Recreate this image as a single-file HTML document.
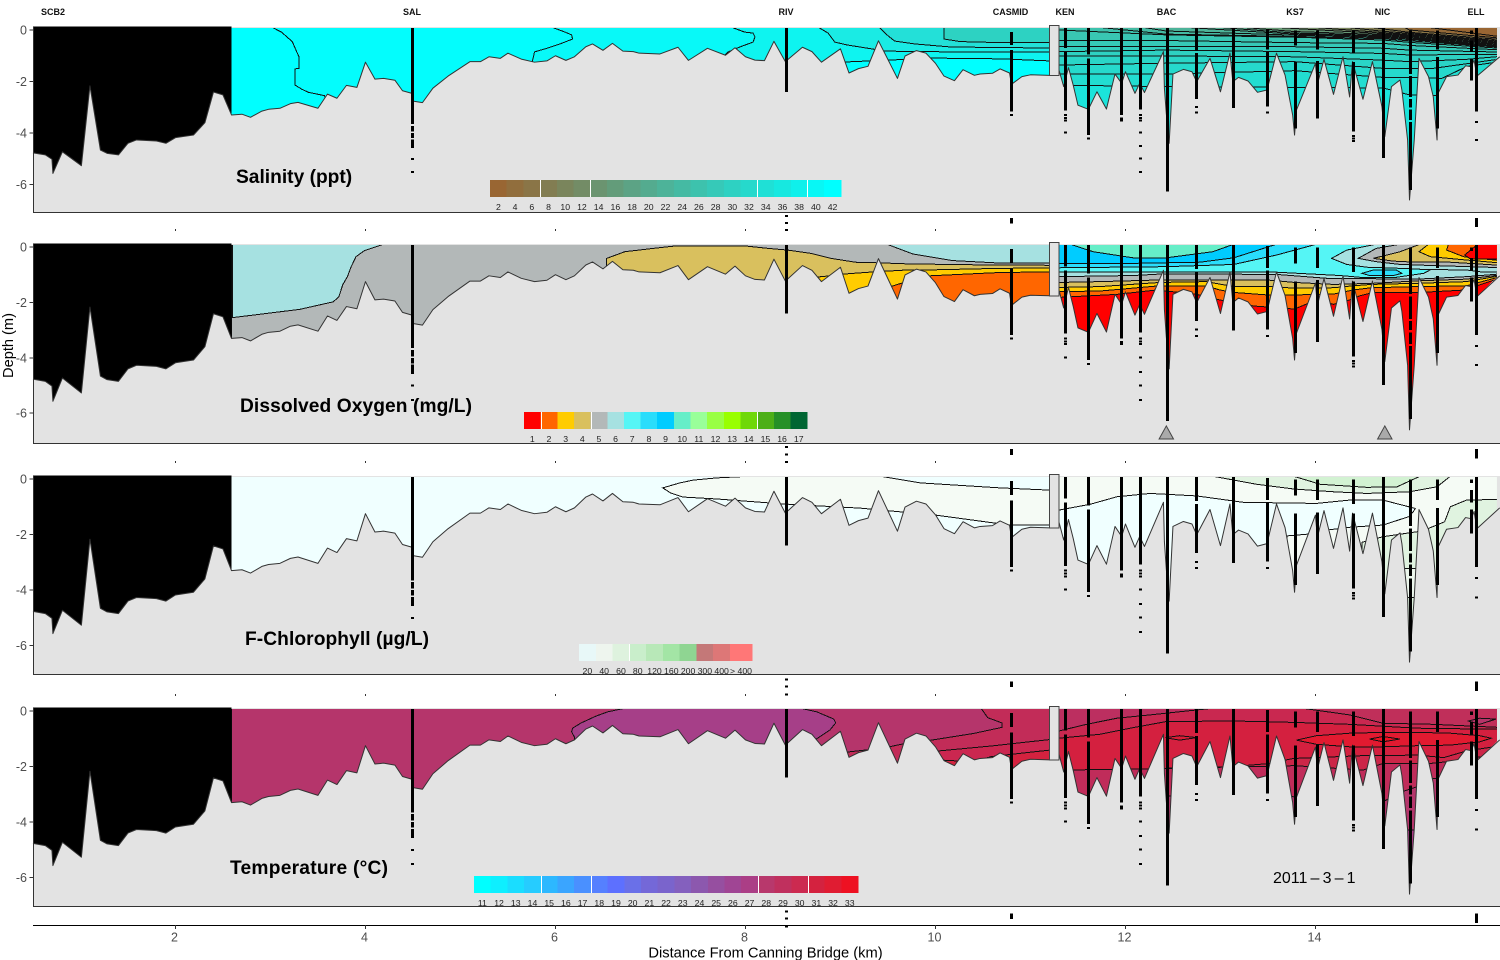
<!DOCTYPE html>
<html lang="en">
<head>
<meta charset="utf-8">
<title>Estuary depth profiles</title>
<style>
html,body{margin:0;padding:0;background:#fff;width:1500px;height:960px;overflow:hidden}
svg{display:block;font-family:"Liberation Sans",Arial,sans-serif}
</style>
</head>
<body>
<svg id="figure" xmlns="http://www.w3.org/2000/svg" width="1500" height="960" viewBox="0 0 1500 960">
<rect x="0" y="0" width="1500" height="960" fill="#fff"/>
<g id="chart"></g>
<g font-size="9" font-weight="bold" fill="#111" text-anchor="middle">
<text x="53" y="15">SCB2</text>
<text x="412" y="15">SAL</text>
<text x="786" y="15">RIV</text>
<text x="1010.5" y="15">CASMID</text>
<text x="1065" y="15">KEN</text>
<text x="1166.5" y="15">BAC</text>
<text x="1295" y="15">KS7</text>
<text x="1382.5" y="15">NIC</text>
<text x="1476" y="15">ELL</text>
</g>
<g font-size="19.2" font-weight="bold" fill="#000">
<text x="236" y="183">Salinity (ppt)</text>
<text x="240" y="412" textLength="232">Dissolved Oxygen (mg/L)</text>
<text x="245" y="645" textLength="184">F-Chlorophyll (µg/L)</text>
<text x="230" y="874" textLength="158">Temperature (°C)</text>
</g>
<text x="1273" y="883" font-size="16" fill="#000" style="word-spacing:-1.3px">2011 – 3 – 1</text>
<text transform="translate(13,345.5) rotate(-90)" font-size="14.6" fill="#000" text-anchor="middle">Depth (m)</text>
<text x="765.5" y="957.5" font-size="14.7" fill="#000" text-anchor="middle">Distance From Canning Bridge (km)</text>
</svg>
<script>
// ---------- shared data (km along the estuary, depth in metres) ----------
const bottomKm = [0.51,0.64,0.71,0.72,0.82,1.02,1.11,1.22,1.29,1.41,1.51,1.60,1.81,1.91,2.01,2.20,2.32,2.41,2.51,2.60,2.71,2.80,2.92,2.99,3.11,3.22,3.30,3.51,3.61,3.71,3.81,3.92,4.01,4.11,4.20,4.32,4.40,4.50,4.51,4.61,4.72,4.88,5.11,5.22,5.31,5.43,5.51,5.65,5.79,5.92,6.01,6.12,6.21,6.33,6.40,6.51,6.61,6.72,6.83,6.89,7.11,7.30,7.41,7.61,7.80,7.90,8.01,8.11,8.21,8.31,8.43,8.61,8.71,8.81,9.01,9.10,9.20,9.30,9.41,9.61,9.69,9.81,9.91,10.01,10.10,10.21,10.30,10.42,10.48,10.61,10.69,10.79,10.81,10.92,11.01,11.21,11.31,11.36,11.41,11.46,11.51,11.62,11.71,11.81,11.90,11.97,12.01,12.11,12.16,12.21,12.41,12.42,12.44,12.47,12.51,12.62,12.71,12.76,12.90,13.01,13.11,13.13,13.14,13.20,13.30,13.40,13.50,13.60,13.69,13.77,13.79,13.81,14.01,14.03,14.10,14.20,14.30,14.37,14.40,14.51,14.61,14.71,14.74,14.81,14.90,14.92,14.98,15.00,15.05,15.10,15.20,15.25,15.29,15.30,15.39,15.51,15.59,15.65,15.68,15.71,15.95];
const bottomDepth = [4.77,4.85,5.02,5.57,4.73,5.27,2.17,4.66,4.79,4.85,4.40,4.27,4.31,4.40,4.18,4.08,3.60,2.41,2.52,3.30,3.27,3.39,3.15,3.08,3.04,2.86,2.81,3.04,2.49,2.65,2.15,2.23,1.25,1.91,1.88,1.95,2.36,2.46,2.76,2.82,2.26,1.79,1.23,1.23,1.04,1.10,0.90,1.13,1.25,1.20,1.00,1.18,1.04,0.65,0.54,0.79,0.52,0.82,0.84,0.90,0.93,0.67,1.18,0.71,0.98,0.69,1.04,1.17,1.19,0.44,1.23,0.67,0.84,1.25,0.73,1.67,1.50,1.41,0.42,1.88,1.01,0.80,0.90,1.29,1.79,1.97,1.54,1.76,1.71,1.68,1.51,1.67,2.11,1.81,1.74,1.76,1.55,2.20,1.46,2.14,2.92,3.08,2.40,3.07,1.71,2.07,1.62,2.46,2.07,2.43,0.84,2.26,3.24,4.40,1.71,1.53,1.62,2.01,1.10,2.40,0.90,1.63,2.01,1.84,1.98,2.42,2.33,0.90,1.75,3.30,4.08,3.11,1.30,2.11,1.14,2.50,1.04,2.60,1.23,2.69,1.23,2.98,4.14,2.20,1.94,2.33,4.27,6.60,4.27,1.10,1.81,2.59,4.27,2.46,1.81,1.75,1.39,1.43,1.17,1.79,1.04];
const stationKm = [4.50,8.44,10.81,11.37,11.62,11.96,12.16,12.45,12.75,13.14,13.50,13.79,14.03,14.40,14.72,15.00,15.29,15.65,15.70];
const stationStart = [-0.08,-0.08,0.07,-0.08,-0.08,-0.08,-0.08,-0.08,-0.08,-0.08,-0.03,0.02,0.02,0.02,-0.08,0.02,0.02,0.02,-0.08];
const stationEnd = [4.58,2.40,3.17,3.13,4.08,3.30,3.08,6.28,2.67,3.02,2.98,3.82,3.43,3.95,4.98,6.21,3.82,1.97,3.17];
const stationGaps = [[[3.65,3.72],[3.95,4.0],[4.2,4.25]],[],[[0.58,0.78]],[[0.7,0.85]],[[0.95,1.1]],[],[],[],[[0.8,0.9]],[],[[0.75,0.85]],[[0.6,1.25]],[[0.75,1.2]],[[0.9,1.25]],[],[[1.7,1.78],[2.6,2.68],[3.0,3.08],[3.5,3.58]],[[0.75,1.05]],[[0.15,0.4],[0.85,1.1]],[]];
const stationDots = [[4.97,5.48],[7.18,7.45,7.73],[3.26,7.3,7.36,7.43],[3.26,3.37,3.47,3.95],[4.18],[3.4,3.47],[3.26,3.37,3.47,3.95,4.47,4.96,5.48],[],[2.95,3.17],[],[3.17],[],[],[4.08,4.17,4.27],[],[],[],[],[3.53,4.23,7.3,7.36,7.43,7.5,7.57]];
const xTicks = [2,4,6,8,10,12,14];
const xTickLabels = ['2','4','6','8','10','12','14'];
const yTicks = [0,-2,-4,-6];
const yTickLabels = ['0','-2','-4','-6'];
const oxygenTriangleKm = [12.44,14.74];
const pierKm = [11.21,11.31];
const pierDepth = 1.76;

// ---------- salinity contours ----------
const salTail = [[8.9,4],[8.98,1.24],[9.07,1.24],[9.32,1.2],[9.52,1.17],[9.95,1.09],[10.69,1.12],[11.21,1.2]];
const salLeftLines = [
 [[3.03,-0.1],[3.13,0.09],[3.18,0.26],[3.24,0.45],[3.27,0.71],[3.31,1.04],[3.31,1.49],[3.27,1.51],[3.27,2.14],[3.34,2.30],[3.41,2.42],[3.58,2.55],[3.6,3],[5.7,4]].concat(salTail),
 [[5.98,-0.1],[6.11,0.08],[6.18,0.19],[6.19,0.35],[6.06,0.54],[5.93,0.70],[5.79,0.85],[5.77,1.17],[5.77,4]].concat(salTail),
 [[7.87,-0.1],[8.0,0.08],[8.09,0.12],[8.11,0.27],[8.09,0.47],[7.95,0.66],[7.83,0.85],[7.78,1.01],[7.78,4]].concat(salTail),
 [[8.78,-0.1],[8.88,0.12],[8.95,0.47],[9.08,0.58],[9.35,0.74],[9.46,0.82],[10.17,0.85],[11.21,0.85]],
 [[9.42,-0.1],[9.5,0.19],[9.58,0.43],[9.79,0.54],[10.17,0.66],[11.21,0.70]],
 [[10.1,-0.1],[10.1,0.35],[10.27,0.45],[10.69,0.49],[11.21,0.49]]
];
const salLeftFills = ['#03fdfd','#08f9f8','#0ef4f0','#1aebe4','#23e0d8','#2dd2c2'];
const salRightLevels = [33,32,31,30,29,28,27,26,24,22,20,18,15,12,10,8,6,3,2];
const salRightLines = [
 [[11.31,2.14],[12.44,2.2],[13.79,2.23],[14.72,2.25],[15.0,2.52],[16,2.59]],
 [[11.31,1.71],[12.44,1.71],[13.79,1.58],[14.72,1.84],[15,1.84],[15.34,1.88],[15.6,1.42],[16,1.2]],
 [[11.31,1.36],[12.44,1.29],[13.79,1.23],[14.72,1.49],[15,1.49],[15.25,1.49],[15.64,1.29],[16,1.1]],
 [[11.31,1.01],[12.44,1.01],[13.79,1.04],[14.72,1.17],[15,1.23],[15.6,1.14],[16,1.01]],
 [[11.31,0.84],[12.44,0.78],[13.79,0.84],[14.72,0.91],[15,0.97],[16,0.94]],
 [[11.31,0.65],[12.44,0.65],[13.79,0.65],[14.72,0.71],[15,0.78],[16,0.86]],
 [[11.31,0.41],[12.44,0.41],[13.79,0.49],[14.72,0.52],[15,0.6],[16,0.78]],
 [[11.31,0.0],[12.44,0.19],[13.79,0.28],[14.72,0.39],[15,0.48],[16,0.72]],
 [[11.74,-0.1],[12.44,0.16],[13.79,0.25],[14.72,0.34],[15,0.42],[16,0.68]],
 [[12.2,-0.1],[12.44,0.04],[13.79,0.2],[14.72,0.3],[15,0.37],[16,0.66]],
 [[12.65,-0.1],[13.79,0.16],[14.72,0.26],[15,0.33],[16,0.63]],
 [[13.0,-0.1],[13.79,0.12],[14.72,0.22],[15,0.29],[16,0.59]],
 [[13.25,-0.1],[13.79,0.06],[14.72,0.18],[15,0.25],[16,0.55]],
 [[13.6,-0.1],[14.72,0.14],[15,0.21],[16,0.51]],
 [[14.0,-0.1],[14.72,0.1],[15,0.17],[16,0.47]],
 [[14.35,-0.1],[14.72,0.05],[15,0.13],[16,0.43]],
 [[14.6,-0.1],[15,0.09],[16,0.38]],
 [[14.95,-0.1],[15,0.0],[16,0.33]],
 [[15.2,-0.1],[16,0.28]]
];
const salLegendLabels = ['2','4','6','8','10','12','14','16','18','20','22','24','26','28','30','32','34','36','38','40','42'];
const salLegendLevels = [2,4,6,8,10,12,14,16,18,20,22,24,26,28,30,32,34,36,38,40,42];

// ---------- dissolved oxygen contours ----------
const doLeftLines = [
 [[2.6,7],[9.48,7],[9.53,1.44],[9.62,1.34],[9.95,1.04],[10.69,0.92],[11.21,0.9]],
 [[2.6,7],[8.75,7],[8.75,1.09],[8.87,1.05],[9.03,0.98],[9.35,0.9],[9.71,0.83],[9.92,0.83],[10.69,0.77],[11.21,0.76]],
 [[2.6,7],[6.53,7],[6.55,0.41],[6.74,0.17],[7.04,0.05],[7.28,-0.04],[8.0,-0.04],[8.25,0.05],[8.45,0.11],[8.7,0.23],[8.91,0.41],[9.17,0.55],[9.4,0.57],[9.73,0.61],[10.6,0.65],[11.21,0.66]],
 [[9.5,-0.1],[9.77,0.25],[10.19,0.49],[10.69,0.58],[11.21,0.58]],
 [[2.61,2.55],[3.32,2.25],[3.67,1.98],[3.73,1.8],[3.77,1.37],[3.82,1.07],[3.86,0.71],[3.91,0.35],[4.0,0.13],[4.2,-0.1]]
];
const doLeftFills = ['#ffcc00','#d9c05e','#b3b8b8','#a6e1e1','#a6e1e1'];
const doRightLines = [
 [[11.31,1.82],[11.92,1.71],[12.34,1.55],[12.76,1.71],[13,1.91],[13.36,2.13],[13.79,2.24],[14.02,1.91],[14.2,2.07],[14.37,1.91],[14.48,1.76],[14.62,1.64],[15.11,1.64],[15.6,1.55],[15.71,1.4],[16,1.07]],
 [[11.31,1.61],[11.74,1.59],[12.37,1.4],[12.86,1.4],[13,1.55],[13.15,1.64],[13.5,1.73],[13.79,1.73],[14.2,1.7],[14.41,1.55],[14.6,1.47],[15.09,1.43],[15.6,1.4],[16,1.03]],
 [[11.31,1.46],[11.74,1.43],[12.37,1.28],[12.86,1.25],[13.15,1.43],[13.57,1.43],[13.79,1.49],[14.2,1.47],[14.41,1.4],[14.6,1.35],[15.09,1.31],[15.6,1.25],[16,1.01]],
 [[11.31,1.28],[11.74,1.25],[12.37,1.19],[13.5,1.19],[13.79,1.28],[14.2,1.35],[14.62,1.31],[15.09,1.22],[15.6,1.16],[16,0.99]],
 [[11.31,1.07],[12.09,1.03],[12.41,0.97],[13.6,0.99],[14.13,1.13],[15.08,1.16],[15.6,1.07],[16,0.96]],
 [[11.31,0.91],[12.44,0.91],[13.6,0.91],[14.27,1.03],[14.5,1.1],[14.83,1.11],[15.15,0.95],[15.25,0.77],[16,0.71]],
 [[11.31,0.75],[12.44,0.71],[13.15,0.63],[13.6,0.29],[14.02,-0.1]],
 [[11.31,0.59],[12.09,0.59],[12.79,0.55],[13.15,0.39],[13.6,-0.1]],
 [[11.43,-0.1],[11.67,0.17],[12.09,0.39],[12.44,0.39],[12.93,0.17],[13.15,-0.1]],
 [[14.5,0.95],[14.62,0.83],[14.86,0.83],[14.92,0.95],[14.83,1.03],[14.58,1.03],[14.5,0.95]],
 [[14.65,-0.1],[14.34,0.11],[14.18,0.41],[14.34,0.63],[14.55,0.73],[14.9,0.77],[15.15,0.81],[15.6,0.83],[15.78,0.91],[16,0.91]],
 [[14.9,-0.1],[14.65,0.05],[14.46,0.41],[14.65,0.53],[14.9,0.63],[15.25,0.67],[16,0.75]],
 [[15.11,-0.1],[14.9,0.17],[14.62,0.41],[14.83,0.51],[15.08,0.55],[15.43,0.55],[16,0.67]],
 [[15.2,-0.1],[15.1,0.17],[15.22,0.35],[15.6,0.47],[16,0.59]],
 [[15.41,-0.1],[15.39,0.11],[15.57,0.35],[16,0.51]],
 [[15.72,-0.1],[15.58,0.29],[15.64,0.43],[16,0.43]]
];
const doRightFills = ['#ff6600','#ffcc00','#d9c05e','#b3b8b8','#a6e1e1','#55f5f5','#2addfb','#00ccff','#66eec8','#2addfb','#a6e1e1','#b3b8b8','#d9c05e','#ffcc00','#ff6600','#ff0000'];
const doLegendLabels = ['1','2','3','4','5','6','7','8','9','10','11','12','13','14','15','16','17'];
const doLegendColors = ['#ff0000','#ff6600','#ffcc00','#d9c05e','#b3b8b8','#a6e1e1','#55f5f5','#2addfb','#00ccff','#66eec8','#99ff99','#99ff44','#99ff00','#6fd808','#4daf18','#269028','#006633'];

// ---------- chlorophyll contours ----------
const chlLeftLines = [
 [[7.14,0.32],[7.32,0.14],[7.46,0.04],[7.71,-0.04],[8.06,-0.1],[9.43,-0.1],[9.85,0.14],[10.69,0.32],[11.21,0.4],[11.21,1.66],[10.79,1.66],[10.01,1.3],[9.22,1.05],[8.41,0.9],[7.71,0.72],[7.35,0.65],[7.22,0.5],[7.14,0.32]]
];
const chlLeftFills = ['#f5fbf5'];
const chlRightLines = [
 [[11.31,7],[14.5,7],[14.5,2.28],[14.72,2.08],[15.08,1.9],[15.2,1.78],[15.37,1.54],[15.43,1],[15.6,0.76],[16,0.73]],
 [[14.93,3.22],[15.08,3.22],[15.05,4.27],[14.93,4.27],[14.93,3.22]],
 [[11.31,1.12],[11.64,0.91],[11.92,0.64],[12.27,0.52],[12.76,0.61],[13.25,0.84],[14.02,0.88],[14.37,0.76],[14.72,0.76],[15.06,1.06],[15.04,1.18],[14.99,1.36],[14.72,1.66],[14.37,1.74],[14.13,1.84],[13.92,1.99],[13.71,2.05],[13.67,7],[11.31,7],[11.31,1.12]],
 [[12.93,-0.1],[13.39,0.19],[13.78,0.36],[14.2,0.46],[14.55,0.52],[15.0,0.46],[15.29,0.28],[15.43,-0.1]],
 [[13.78,-0.1],[14.06,0.19],[14.55,0.3],[14.87,0.28],[15.11,-0.1]]
];
const chlRightFills = ['#f5fbf5','#edf7ed','#f0ffff','#e0f3e0','#d2f2d2'];
const chlLegendLabels = ['20','40','60','80','120','160','200','300','400','> 400'];
const chlLegendColors = ['#e8f8f8','#eef5ee','#def2de','#c9eecb','#b8e8b8','#a3e5a5','#8fd592','#c47878','#dd7777','#ff7777'];

// ---------- temperature contours ----------
const tempLeftLines = [
 [[2.6,7],[9.58,7],[9.58,1.77],[9.64,1.69],[10.41,1.83],[10.6,1.64],[11.21,1.41]],
 [[2.6,7],[10.0,7],[10.04,1.44],[10.6,1.26],[11.21,1.03]],
 [[2.6,7],[9.05,7],[9.08,1.48],[9.32,1.39],[9.51,1.30],[9.69,1.17],[9.93,1.07],[10.41,0.81],[10.71,0.59],[10.71,0.43],[10.56,0.24],[10.49,-0.1]],
 [[6.21,0.94],[6.18,0.75],[6.19,0.62],[6.28,0.43],[6.44,0.18],[6.56,0.03],[6.74,-0.1],[8.59,-0.1],[8.76,0.03],[8.94,0.29],[8.96,0.43],[8.9,0.68],[8.76,1.0],[8.76,3],[6.21,3],[6.21,0.94]]
];
const tempLeftFills = ['#cb2750','#c22c58','#b5356b','#a63f88'];
const tempRightLines = [
 [[11.31,7],[14.92,7],[14.92,4.29],[15.06,4.29],[16,4.29]],
 [[11.31,3.03],[13.78,3.09],[14.71,3.29],[14.92,2.91],[15.08,2.73],[15.22,2.43],[15.39,2.43],[16,2.43]],
 [[11.31,2.13],[12.16,2.09],[13.79,1.97],[14.51,2.13],[14.72,1.89],[15.0,1.89],[15.22,1.89],[15.39,1.83],[16,1.53]],
 [[11.31,2.13],[12.16,2.09],[13.15,2.0],[13.5,1.9],[13.78,1.71],[14.5,1.61],[15.09,1.59],[15.36,1.68],[15.6,1.44],[16,1.23]],
 [[11.31,0.98],[11.74,0.84],[12.09,0.6],[12.44,0.38],[13.15,0.36],[13.78,0.41],[14.37,0.48],[15.08,0.62],[16,0.66]],
 [[11.31,0.72],[11.6,0.48],[11.92,0.26],[12.27,0.14],[12.93,-0.1]],
 [[13.87,-0.1],[14.37,0.14],[14.72,0.44],[15.25,0.48],[16,0.6]],
 [[13.81,1.05],[14.02,0.89],[14.37,0.8],[14.72,0.77],[15.08,0.77],[15.43,0.8],[15.74,0.89],[15.86,0.98],[15.74,1.11],[15.43,1.23],[15.08,1.25],[14.72,1.29],[14.37,1.29],[14.02,1.2],[13.81,1.05]],
 [[14.58,1.01],[14.72,0.92],[14.9,1.01],[14.72,1.11],[14.58,1.01]],
 [[12.43,0.96],[12.58,0.89],[12.76,0.96],[12.58,1.05],[12.43,0.96]],
 [[15.62,0.36],[15.74,0.26],[15.91,0.29],[15.74,0.48],[15.62,0.36]]
];
const tempRightFills = ['#b5356b','#c02c5a','#cc2648','#d4203f','#c92850','#bc2f60','#c02f5a','#e21a30','#ee1122','#dc1c36','#b53569'];
const tempLegendLabels = ['11','12','13','14','15','16','17','18','19','20','21','22','23','24','25','26','27','28','29','30','31','32','33'];
const tempLegendColors = ['#00ffff','#0eefff','#1addff','#26ccff','#2db8ff','#3aa5ff','#4a90ff','#5580ff','#5d70ff','#6a70e8','#7468d8','#7a64cc','#8460be','#8c58ae','#964fa0','#a04594','#ab3e86','#b8386c','#c0305e','#cc2a50','#d4223f','#e01c32','#ee1122'];

// ---------- drawing ----------
const NS = 'http://www.w3.org/2000/svg';
const chart = document.getElementById('chart');
function el(tag, attrs, parent){
  const e = document.createElementNS(NS, tag);
  for (const k in attrs) e.setAttribute(k, attrs[k]);
  parent.appendChild(e);
  return e;
}
const xScale = km => 174.5 + (km - 2) * 95;
const r = v => Math.round(v * 100) / 100;
function salColor(level){
  const t = (level - 2) / 40;
  return 'rgb(' + Math.round(153 * (1 - t)) + ',' + Math.round(102 + 153 * t) + ',' + Math.round(51 + 204 * t) + ')';
}
function polyPath(kmList, dList, yScale){
  return 'M' + kmList.map((k, i) => r(xScale(k)) + ' ' + r(yScale(dList[i]))).join('L') + 'Z';
}
function regionPath(line, yScale){
  const pts = line.slice();
  const a = pts[0], b = pts[pts.length - 1];
  if (a[0] !== b[0] || a[1] !== b[1]) { pts.push([b[0], -0.45]); pts.push([a[0], -0.45]); }
  return polyPath(pts.map(p => p[0]), pts.map(p => p[1]), yScale);
}
function drawPanel(cfg){
  const y = d => cfg.y0 + cfg.scale * d;
  const g = el('g', {}, chart);
  
  

  const bg = el('rect', {x:33, y:cfg.top, width:1467, height:cfg.bottom - cfg.top, fill:'#e3e3e3', 'shape-rendering':'crispEdges'}, g);
  
  

  const surface = -(cfg.y0 - cfg.top - 1) / cfg.scale;
  // unsampled reach (black)
  const ki = bottomKm.map((k, i) => i).filter(i => bottomKm[i] <= 2.6);
  const blackKm = [0.51].concat(ki.map(i => bottomKm[i]), [2.6]);
  const blackD = [surface - 0.05].concat(ki.map(i => bottomDepth[i]), [surface - 0.05]);
  const black = el('path', {d: polyPath(blackKm, blackD, y), fill:'#000', 'shape-rendering':'crispEdges'}, g);
  
  

  // water sections either side of the causeway pier
  [['left', 2.6, 11.21, cfg.leftBase, cfg.leftLines, cfg.leftFills, 1.76], ['right', 11.31, 15.92, cfg.rightBase, cfg.rightLines, cfg.rightFills, 1.09]].forEach(sec => {
    const idx = bottomKm.map((k, i) => i).filter(i => bottomKm[i] >= sec[1] && bottomKm[i] <= sec[2]);
    const kmL = [sec[1]].concat(idx.map(i => bottomKm[i]), [sec[2], sec[2]]);
    const dL = [surface].concat(idx.map(i => bottomDepth[i]), [sec[6], surface]);
    const water = polyPath(kmL, dL, y);
    const clip = el('clipPath', {id: cfg.name + '-clip-' + sec[0]}, g);
    
    
    const clipShape = el('path', {d: water}, clip);
    
    
    const sg = el('g', {'clip-path': 'url(#' + cfg.name + '-clip-' + sec[0] + ')'}, g);
    
    
    const base = el('path', {d: water, fill: sec[3], 'shape-rendering':'crispEdges'}, sg);
    
    
    sec[4].forEach((line, i) => {
      const p = el('path', {d: regionPath(line, y), fill: sec[5][i], stroke:'#111', 'stroke-width':1, 'shape-rendering':'crispEdges'}, sg);
      
      
    });
  });

  // bed line
  const bedLine = el('polyline', {points: bottomKm.map((k, i) => r(xScale(k)) + ',' + r(y(bottomDepth[i]))).join(' '), fill:'none', stroke:'#333', 'stroke-width':1, 'stroke-linejoin':'round'}, g);
  
  

  // pier
  const pier = el('rect', {x:r(xScale(pierKm[0])), y:r(y(-0.17)), width:r(xScale(pierKm[1]) - xScale(pierKm[0])), height:r(y(pierDepth) - y(-0.17)), fill:'#e3e3e3', stroke:'#444', 'stroke-width':1, 'shape-rendering':'crispEdges'}, g);
  
  

  // axes
  const axL = el('rect', {x:33, y:cfg.top, width:1, height:cfg.bottom - cfg.top, fill:'#333', 'shape-rendering':'crispEdges'}, g);
  
  
  const axB = el('rect', {x:33, y:cfg.bottom, width:1467, height:1, fill:'#333', 'shape-rendering':'crispEdges'}, g);
  
  
  yTicks.forEach((t, i) => {
    const tk = el('line', {x1:29.5, x2:33, y1:r(y(-t)), y2:r(y(-t)), stroke:'#333', 'stroke-width':1, 'shape-rendering':'crispEdges'}, g);
    
    
    const lb = el('text', {x:27, y:r(y(-t) + 4.5), 'text-anchor':'end', 'font-size':12.5, fill:'#4d4d4d'}, g);
    
    
    lb.textContent = yTickLabels[i];
  });
  xTicks.forEach(t => {
    const tk = el('rect', {x:Math.round(xScale(t)), y:Math.round(y(7.73)), width:1, height:2, fill:'#333', 'shape-rendering':'crispEdges'}, g);
    
    
  });

  // legend
  const lg = el('g', {}, g);
  
  
  let lx = cfg.legendX;
  cfg.legendLabels.forEach((label, i) => {
    const w = (i === cfg.legendLabels.length - 1 && cfg.legendLastW) ? cfg.legendLastW : cfg.legendW;
    const c = el('rect', {x:r(lx), y:cfg.legendY, width:r(w + 0.4), height:17, fill:cfg.legendColors[i], 'shape-rendering':'crispEdges'}, lg);
    
    
    const t = el('text', {x:r(lx + w / 2), y:cfg.legendY + 30, 'text-anchor':'middle', 'font-size':8.7, fill:'#222'}, lg);
    
    
    t.textContent = label;
    lx += w;
  });
  cfg.legendBreaks.forEach(n => {
    const b = el('rect', {x:Math.round(cfg.legendX + n * cfg.legendW), y:cfg.legendY, width:1, height:17, fill:'#fff', 'shape-rendering':'crispEdges'}, lg);
    
    
  });

  // sampling stations
  stationKm.forEach((km, i) => {
    const sx = Math.round(xScale(km)) - 1;
    let from = stationStart[i];
    stationGaps[i].concat([[stationEnd[i], stationEnd[i]]]).forEach(gap => {
      const s = el('rect', {x:sx, y:r(y(from)), width:3, height:r(y(gap[0]) - y(from)), fill:'#000', 'shape-rendering':'crispEdges'}, g);
      
      
      from = gap[1];
    });
    stationDots[i].forEach(d => {
      const dot = el('rect', {x:sx, y:r(y(d)), width:3, height:2, fill:'#000', 'shape-rendering':'crispEdges'}, g);
      
      
    });
  });

  if (cfg.triangles) {
    cfg.triangles.forEach(km => {
      const tx = xScale(km);
      const tr = el('polygon', {points: r(tx) + ',' + r(y(6.46)) + ' ' + r(tx - 7.2) + ',' + r(y(6.93)) + ' ' + r(tx + 7.2) + ',' + r(y(6.93)), fill:'#aaa', stroke:'#444', 'stroke-width':1}, g);
      
      
    });
  }
}

drawPanel({name:'salinity', y0:30, scale:25.75, top:27, bottom:212,
  leftBase:'#00ffff', leftLines:salLeftLines, leftFills:salLeftFills,
  rightBase:salColor(35), rightLines:salRightLines, rightFills:salRightLevels.map(salColor),
  legendX:490, legendY:180, legendW:16.71, legendLabels:salLegendLabels, legendColors:salLegendLevels.map(salColor), legendBreaks:[3,6,16,19]});
drawPanel({name:'oxygen', y0:247, scale:27.7, top:244, bottom:443,
  leftBase:'#ff6600', leftLines:doLeftLines, leftFills:doLeftFills,
  rightBase:'#ff0000', rightLines:doRightLines, rightFills:doRightFills,
  legendX:524, legendY:412, legendW:16.65, legendLabels:doLegendLabels, legendColors:doLegendColors, legendBreaks:[1,4,14], triangles:oxygenTriangleKm});
drawPanel({name:'chlorophyll', y0:479, scale:27.75, top:476, bottom:674,
  leftBase:'#f0ffff', leftLines:chlLeftLines, leftFills:chlLeftFills,
  rightBase:'#e0f3e0', rightLines:chlRightLines, rightFills:chlRightFills,
  legendX:579, legendY:644, legendW:16.78, legendLastW:22, legendLabels:chlLegendLabels, legendColors:chlLegendColors, legendBreaks:[3]});
drawPanel({name:'temperature', y0:711, scale:27.75, top:708, bottom:906,
  leftBase:'#d4223f', leftLines:tempLeftLines, leftFills:tempLeftFills,
  rightBase:'#a83c85', rightLines:tempRightLines, rightFills:tempRightFills,
  legendX:474, legendY:876, legendW:16.7, legendLabels:tempLegendLabels, legendColors:tempLegendColors, legendBreaks:[4,7,17,20]});

// bottom x axis
const xAxisLine = el('rect', {x:33, y:925, width:1467, height:1, fill:'#000', 'shape-rendering':'crispEdges'}, chart);


xTicks.forEach((t, i) => {
  const tk = el('rect', {x:Math.round(xScale(t)), y:925, width:1, height:4, fill:'#333', 'shape-rendering':'crispEdges'}, chart);
  
  
  const lb = el('text', {x:r(xScale(t)), y:941.5, 'text-anchor':'middle', 'font-size':12.5, fill:'#4d4d4d'}, chart);
  
  
  lb.textContent = xTickLabels[i];
});
</script>
</body>
</html>
